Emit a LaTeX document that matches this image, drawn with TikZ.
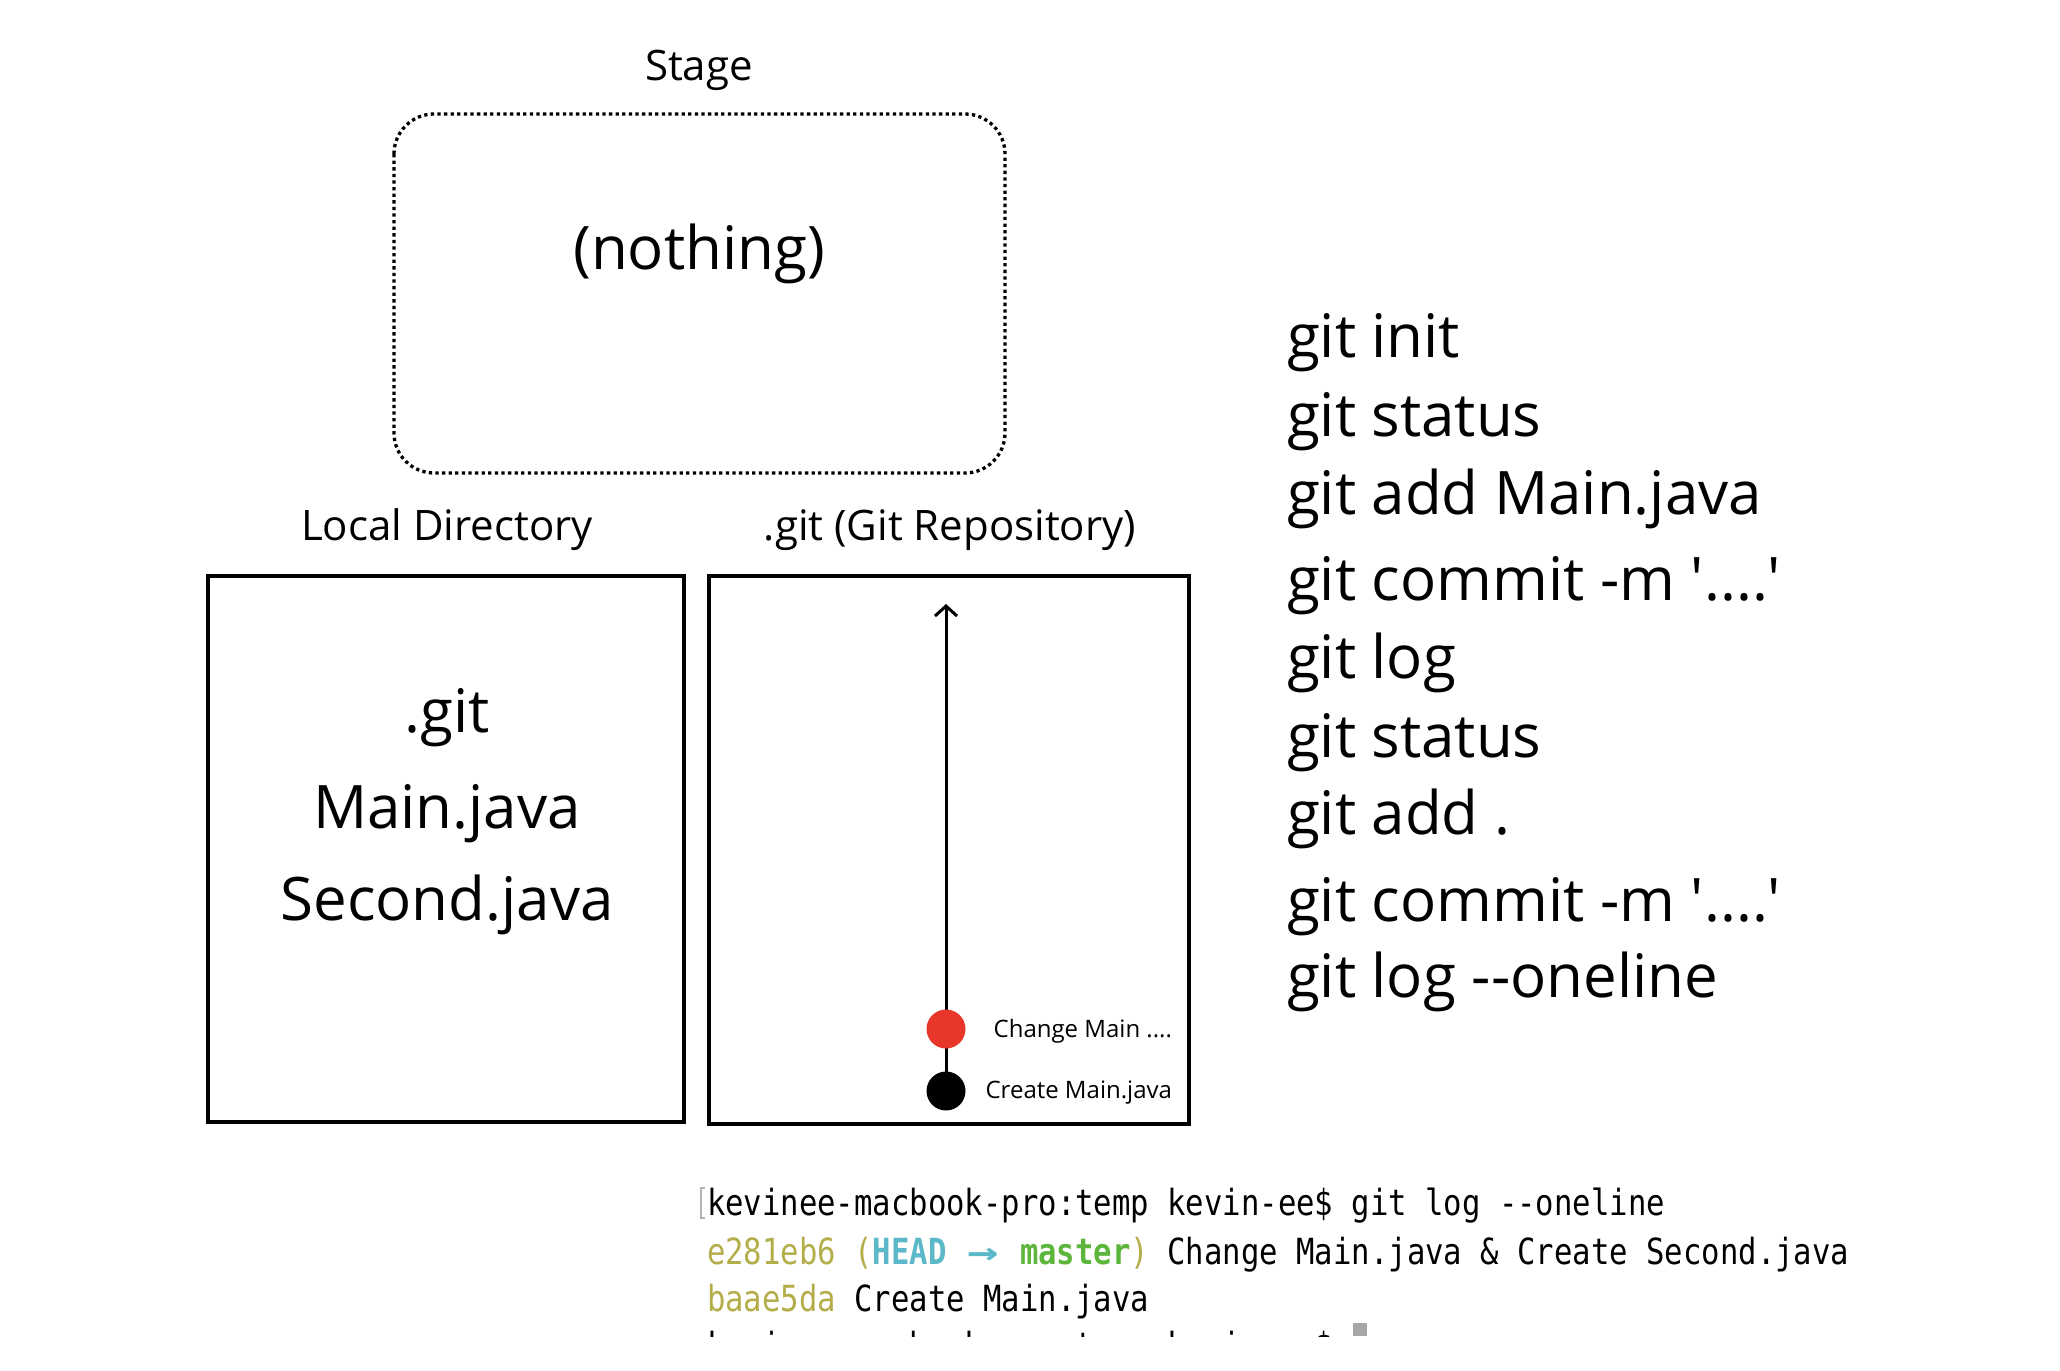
\documentclass[tikz,border=0pt]{standalone}
\usepackage{fontspec}
\usepackage{graphicx}
\setmainfont{Open Sans}[Ligatures=TeXOff]
\newfontfamily\term[FakeStretch=0.85]{DejaVu Sans Mono}
\usetikzlibrary{arrows.meta,backgrounds}
\definecolor{hashcol}{HTML}{B3AD4A}
\definecolor{headcol}{HTML}{5BB8C8}
\definecolor{mastercol}{HTML}{5CB63C}
\definecolor{commitred}{HTML}{E8362A}
\tikzset{
  txt/.style={inner sep=0pt, outer sep=0pt},
  big/.style={txt, font=\fontsize{60}{66}\selectfont},
  lbl/.style={txt, font=\fontsize{42}{46}\selectfont},
  small/.style={txt, font=\fontsize{24}{28}\selectfont},
  termtxt/.style={txt, anchor=base west, font=\term\fontsize{36}{40}\selectfont},
  solidbox/.style={draw, line width=3.2pt},
  stagebox/.style={draw, line width=3.3pt, dash pattern=on 3.3pt off 3.3pt, rounded corners=40pt},
  commit/.style={circle, minimum size=39pt, inner sep=0pt},
}
\begin{document}
\begin{tikzpicture}[x=1pt,y=-1pt]
\useasboundingbox (0,0) rectangle (2060,1370);
% Stage
\node[lbl, anchor=base] (stagelbl) at (699,81) {Stage};
\draw[stagebox] (394,114) rectangle (1005,473);
\node[big, anchor=base] (nothing) at (699,269) {(nothing)};
% Local directory
\node[lbl, anchor=base] (locallbl) at (447,540) {Local Directory};
\draw[solidbox] (208,576) rectangle (684,1122);
\node[big, anchor=base] (f1) at (447,732) {.git};
\node[big, anchor=base] (f2) at (447,828) {Main.java};
\node[big, anchor=base] (f3) at (447,920) {Second.java};
% Repository
\node[lbl, anchor=base] (repolbl) at (950,540) {.git (Git Repository)};
\draw[solidbox] (709,576) rectangle (1189,1124);
\coordinate (top) at (946,604);
\node[commit, fill=black] (c1) at (946,1091) {};
\node[commit, fill=commitred] (c2) at (946,1029) {};
\begin{pgfonlayer}{background}
\draw[line width=3pt] (c1.center) -- (c2.center);
\draw[line width=3pt, -{Straight Barb[length=10pt,width=22pt,line width=3pt]}] (c2.center) -- (top);
\end{pgfonlayer}
\node[small, anchor=base east] (c2lbl) at (1172,1037) {Change Main ....};
\node[small, anchor=base east] (c1lbl) at (1172,1098) {Create Main.java};
% Commands
\node[big, anchor=base west] (g1) at (1287,357) {git init};
\node[big, anchor=base west] (g2) at (1287,436) {git status};
\node[big, anchor=base west] (g3) at (1287,514) {git add Main.java};
\node[big, anchor=base west] (g4) at (1287,600) {git commit -m '....'};
\node[big, anchor=base west] (g5) at (1287,678) {git log};
\node[big, anchor=base west] (g6) at (1287,757) {git status};
\node[big, anchor=base west] (g7) at (1287,834) {git add .};
\node[big, anchor=base west] (g8) at (1287,921) {git commit -m '....'};
\node[big, anchor=base west] (g9) at (1287,997) {git log --oneline};
% Terminal
\begin{scope}
\clip (680,1170) rectangle (1900,1336);
\draw[gray!60, line width=1.2pt] (705,1188) -- (701,1188) -- (701,1218) -- (705,1218);
\node[termtxt] (t1) at (707,1215) {kevinee-macbook-pro:temp kevin-ee\$ git log --oneline};
\node[termtxt] (t2) at (707,1264) {\textcolor{hashcol}{e281eb6 (}\textcolor{headcol}{\bfseries HEAD \makebox[36.8pt]{\scalebox{1.7}[1]{→}}} \textcolor{mastercol}{\bfseries master}\textcolor{hashcol}{)} Change Main.java \& Create Second.java};
\node[termtxt] (t3) at (707,1311) {\textcolor{hashcol}{baae5da} Create Main.java};
\node[termtxt] (t4) at (707,1358) {kevinee-macbook-pro:temp kevin-ee\$};
\fill[gray!70] (1353,1323) rectangle (1367,1336);
\end{scope}
\end{tikzpicture}
\end{document}
